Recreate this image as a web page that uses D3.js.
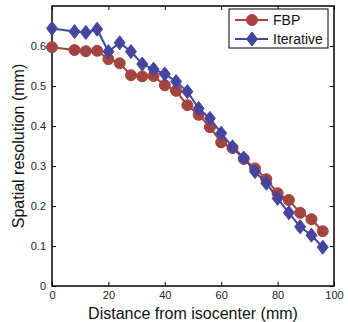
<!DOCTYPE html>
<html><head><meta charset="utf-8">
<script src="https://cdn.jsdelivr.net/npm/d3@7"></script>
<style>body{margin:0;background:#fff}svg{display:block;font-family:"Liberation Sans",Arial,sans-serif}</style>
</head><body><svg id="c" width="348" height="322"></svg>
<script>
const distances = [0,8,12,16,20,24,28,32,36,40,44,48,52,56,60,64,68,72,76,80,84,88,92,96];
const fbp = [0.597,0.590,0.587,0.588,0.567,0.557,0.527,0.524,0.525,0.502,0.488,0.452,0.428,0.397,0.359,0.345,0.318,0.294,0.267,0.232,0.215,0.183,0.167,0.137];
const iterative = [0.644,0.636,0.634,0.642,0.586,0.608,0.586,0.555,0.542,0.530,0.511,0.486,0.444,0.419,0.382,0.348,0.320,0.286,0.257,0.219,0.183,0.148,0.127,0.097];
const xTicks = [0,20,40,60,80,100];
const yTicks = [0,0.1,0.2,0.3,0.4,0.5,0.6];
const seriesNames = ["FBP","Iterative"];
const colors = ["#a4433f","#4545a0"];

const svg = d3.select("#c");
const L=52,R=334,T=6,B=286;
const x = d3.scaleLinear().domain([0,100]).range([L,R]);
const y = d3.scaleLinear().domain([0,0.7]).range([B,T]);

const tl = 4;
svg.append("g").attr("transform",`translate(0,${B})`)
  .call(d3.axisBottom(x).tickValues(xTicks).tickSizeInner(-tl).tickSizeOuter(0).tickPadding(5))
  .call(g=>{g.select(".domain").remove();g.selectAll("text").attr("font-size",11).attr("fill","#222");});
svg.append("g").attr("transform",`translate(0,${T})`)
  .call(d3.axisTop(x).tickValues(xTicks).tickSizeInner(-tl).tickSizeOuter(0).tickFormat(""))
  .call(g=>g.select(".domain").remove());
svg.append("g").attr("transform",`translate(${L},0)`)
  .call(d3.axisLeft(y).tickValues(yTicks).tickSizeInner(-tl).tickSizeOuter(0).tickPadding(6).tickFormat(d=>d===0?"0":d3.format(".1f")(d)))
  .call(g=>{g.select(".domain").remove();g.selectAll("text").attr("font-size",11).attr("fill","#222");});
svg.append("g").attr("transform",`translate(${R},0)`)
  .call(d3.axisRight(y).tickValues(yTicks).tickSizeInner(-tl).tickSizeOuter(0).tickFormat(""))
  .call(g=>g.select(".domain").remove());
svg.selectAll(".tick line").attr("stroke","#000").attr("stroke-width",1);
svg.append("rect").attr("x",L).attr("y",T).attr("width",R-L).attr("height",B-T)
  .attr("fill","none").attr("stroke","#000").attr("stroke-width",1.5);

svg.append("text").attr("x",(L+R)/2).attr("y",319).attr("text-anchor","middle")
  .attr("font-size",16).attr("fill","#111").text("Distance from isocenter (mm)");
svg.append("text").attr("transform",`translate(24,${(T+B)/2}) rotate(-90)`).attr("text-anchor","middle")
  .attr("font-size",16).attr("fill","#111").text("Spatial resolution (mm)");

const line = d3.line().x(d=>x(d[0])).y(d=>y(d[1]));
const circle = "M5.5,0A5.5,5.5 0 1,1 -5.5,0A5.5,5.5 0 1,1 5.5,0Z";
const diamond = "M0,-7L5.5,0L0,7L-5.5,0Z";

const dataSets = [fbp, iterative];
const syms = [circle, diamond];
dataSets.forEach((vals,i)=>{
  const pts = distances.map((d,j)=>[d,vals[j]]);
  const g = svg.append("g");
  g.append("path").datum(pts).attr("d",line).attr("fill","none").attr("stroke",colors[i]).attr("stroke-width",2);
  g.selectAll("path.m").data(pts).join("path").attr("class","m")
    .attr("transform",d=>`translate(${x(d[0])},${y(d[1])})`)
    .attr("d",syms[i]).attr("fill",colors[i]).attr("stroke",colors[i]).attr("stroke-width",1);
});

const lg = svg.append("g");
lg.append("rect").attr("x",229).attr("y",9).attr("width",99).attr("height",39)
  .attr("fill","#fff").attr("stroke","#000").attr("stroke-width",1);
seriesNames.forEach((n,i)=>{
  const yy = 20 + i*19;
  lg.append("line").attr("x1",235).attr("x2",268).attr("y1",yy).attr("y2",yy).attr("stroke",colors[i]).attr("stroke-width",2);
  lg.append("path").attr("transform",`translate(252,${yy})`).attr("d",syms[i]).attr("fill",colors[i]).attr("stroke",colors[i]);
  lg.append("text").attr("x",273).attr("y",yy+5).attr("font-size",14).attr("fill","#111").text(n);
});
</script></body></html>
